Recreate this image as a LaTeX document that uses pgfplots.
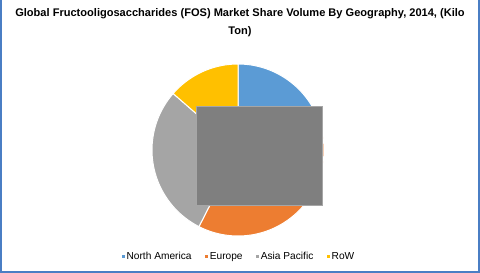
\documentclass[border=0pt]{standalone}
\usepackage{pgfplots}
\pgfplotsset{compat=1.18}
\usepackage{fontspec}
\setmainfont{Liberation Sans}
\definecolor{cNA}{HTML}{5B9BD5}
\definecolor{cEU}{HTML}{ED7D31}
\definecolor{cAP}{HTML}{A5A5A5}
\definecolor{cRW}{HTML}{FFC000}
\definecolor{rectfill}{HTML}{7F7F7F}
\definecolor{rectline}{HTML}{A6A6A6}
\definecolor{framecol}{HTML}{4A7EC4}
% shares (%)
\def\sNA{21.0}
\def\sEU{36.5}
\def\sAP{28.9}
\def\sRW{13.6}
\pgfmathsetmacro\aA{90}
\pgfmathsetmacro\aB{\aA-3.6*\sNA}
\pgfmathsetmacro\aC{\aB-3.6*\sEU}
\pgfmathsetmacro\aD{\aC-3.6*\sAP}
\pgfmathsetmacro\aE{\aD-3.6*\sRW}
\begin{document}
\begin{tikzpicture}
\path[use as bounding box] (0,0) rectangle (480bp,273bp);
\draw[framecol, line width=1.5bp] (0.75bp,273bp) -- (0.75bp,1bp) -- (479bp,1bp) -- (479bp,273bp);
\node[align=center, font=\bfseries\fontsize{11.1}{18.3}\selectfont] at (240bp,250.5bp) {Global Fructooligosaccharides (FOS) Market Share Volume By Geography, 2014, (Kilo\\Ton)};
\begin{axis}[
  at={(238bp,123bp)}, anchor=center,
  scale only axis, width=172bp, height=172bp,
  xmin=-1, xmax=1, ymin=-1, ymax=1,
  hide axis, clip=false,
  legend columns=4,
  legend style={at={(0.506,-0.12)}, anchor=center, draw=none, fill=none,
    font=\fontsize{10.2}{12}\selectfont, inner sep=1bp,
    /tikz/every even column/.append style={column sep=11.5bp}},
  legend cell align=left,
  legend image code/.code={\fill[#1, draw=none] (0bp,-1.4bp) rectangle (2.8bp,1.4bp);},
]
\addplot[fill=cNA, draw=white, line width=1bp, domain=\aB:\aA, samples=60] ({cos(x)},{sin(x)}) -- (axis cs:0,0) -- cycle;
\addlegendentry{North America}
\addplot[fill=cEU, draw=white, line width=1bp, domain=\aC:\aB, samples=80] ({cos(x)},{sin(x)}) -- (axis cs:0,0) -- cycle;
\addlegendentry{Europe}
\addplot[fill=cAP, draw=white, line width=1bp, domain=\aD:\aC, samples=70] ({cos(x)},{sin(x)}) -- (axis cs:0,0) -- cycle;
\addlegendentry{Asia Pacific}
\addplot[fill=cRW, draw=white, line width=1bp, domain=\aE:\aD, samples=40] ({cos(x)},{sin(x)}) -- (axis cs:0,0) -- cycle;
\addlegendentry{RoW}
\addplot[fill=rectfill, draw=rectline, line width=0.8bp, forget plot] coordinates {(-0.48,0.512) (0.985,0.512) (0.985,-0.648) (-0.48,-0.648)} -- cycle;
\end{axis}
\end{tikzpicture}
\end{document}
